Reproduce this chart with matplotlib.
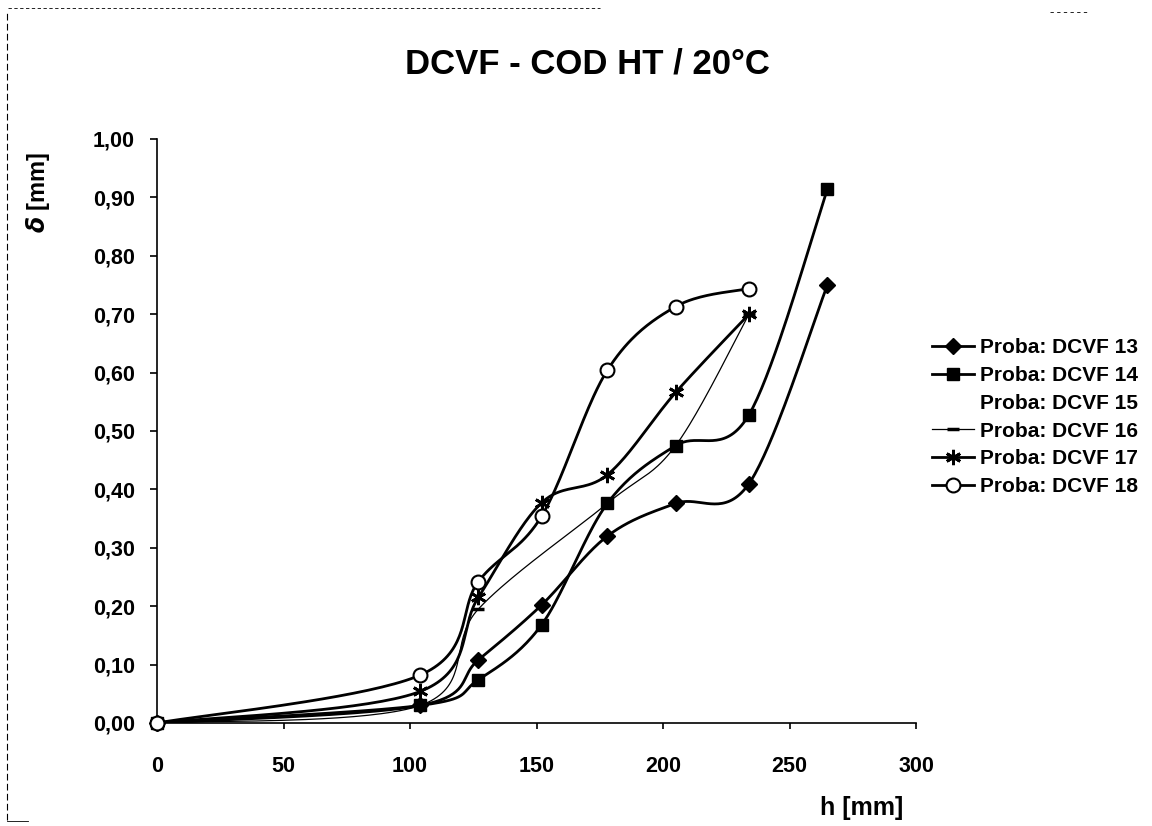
import numpy as np
import matplotlib
matplotlib.use("Agg")
import matplotlib.pyplot as plt
from matplotlib.ticker import FuncFormatter, MultipleLocator
from matplotlib.lines import Line2D

plt.rcParams["font.family"] = ["Liberation Sans", "DejaVu Sans"]
plt.rcParams["font.weight"] = "bold"

# crack depth h [mm] and opening delta [mm] for each specimen
h_13 = [0, 104, 127, 152, 178, 205, 234, 265]
d_13 = [0.00, 0.03, 0.108, 0.202, 0.32, 0.376, 0.41, 0.75]

h_14 = [0, 104, 127, 152, 178, 205, 234, 265]
d_14 = [0.00, 0.03, 0.074, 0.168, 0.376, 0.475, 0.528, 0.914]

h_15 = [0, 104, 127, 152, 178, 205, 234]
d_15 = [0.00, 0.03, 0.21, 0.29, 0.38, 0.475, 0.70]

h_16 = [0, 104, 127, 178, 205, 234]
d_16 = [0.00, 0.03, 0.195, 0.376, 0.475, 0.70]

h_17 = [0, 104, 127, 152, 178, 205, 234]
d_17 = [0.00, 0.054, 0.215, 0.377, 0.425, 0.566, 0.70]

h_18 = [0, 104, 127, 152, 178, 205, 234]
d_18 = [0.00, 0.082, 0.242, 0.354, 0.604, 0.713, 0.744]

labels = ["Proba: DCVF 13", "Proba: DCVF 14", "Proba: DCVF 15",
          "Proba: DCVF 16", "Proba: DCVF 17", "Proba: DCVF 18"]

x_ticks = [0, 50, 100, 150, 200, 250, 300]


def smooth(x, y, n=40):
    """Bezier smoothing through the points (Catmull-Rom style)."""
    P = np.column_stack([x, y]).astype(float)
    out = []
    for i in range(len(P) - 1):
        p0 = P[i - 1] if i > 0 else P[i]
        p1, p2 = P[i], P[i + 1]
        p3 = P[i + 2] if i + 2 < len(P) else P[i + 1]
        c1 = p1 + (p2 - p0) / 6.0
        c2 = p2 - (p3 - p1) / 6.0
        t = np.linspace(0, 1, n)[:, None]
        seg = ((1 - t) ** 3) * p1 + 3 * ((1 - t) ** 2) * t * c1 \
            + 3 * (1 - t) * t ** 2 * c2 + t ** 3 * p2
        out.append(seg if i == 0 else seg[1:])
    S = np.vstack(out)
    return S[:, 0], S[:, 1]


fig = plt.figure(figsize=(11.52, 8.26), dpi=100)
ax = fig.add_axes([157 / 1152, 1 - 723 / 826, 759 / 1152, 584 / 826])

styles = [
    (h_13, d_13, dict(color="black", lw=2.0, marker="D", ms=8, mfc="black", mec="black")),
    (h_14, d_14, dict(color="black", lw=2.0, marker="s", ms=9, mfc="black", mec="black")),
    (h_15, d_15, dict(color="white", lw=1.0, marker=None)),
    (h_16, d_16, dict(color="black", lw=0.9, marker="_", ms=8, mew=2.5, mec="black")),
    (h_17, d_17, dict(color="black", lw=2.0, marker=(6, 2, 0), ms=11, mew=2.0, mec="black")),
    (h_18, d_18, dict(color="black", lw=2.0, marker="o", ms=10, mfc="white", mec="black", mew=1.5)),
]

handles = []
for k, (hx, dy, st) in enumerate(styles):
    sx, sy = smooth(hx, dy)
    z = 1 if st["color"] == "white" else 3
    ax.plot(sx, sy, color=st["color"], lw=st["lw"], zorder=z, solid_capstyle="round")
    if st.get("marker"):
        mk = {key: v for key, v in st.items() if key not in ("color", "lw")}
        ax.plot(hx, dy, ls="none", zorder=4 + k, clip_on=False, **mk)
    handles.append(Line2D([], [], color=st["color"], lw=st["lw"],
                          marker=st.get("marker"), ms=st.get("ms", 0),
                          mfc=st.get("mfc", "black"), mec=st.get("mec", "black"),
                          mew=st.get("mew", 1.0)))

ax.set_xlim(0, 300)
ax.set_ylim(0, 1.0)
ax.set_xticks(x_ticks)
ax.yaxis.set_major_locator(MultipleLocator(0.1))
ax.yaxis.set_major_formatter(FuncFormatter(lambda v, p: f"{v:.2f}".replace(".", ",")))
for side in ("top", "right"):
    ax.spines[side].set_visible(False)
for side in ("left", "bottom"):
    ax.spines[side].set_linewidth(1.2)
ax.tick_params(axis="y", direction="out", length=5, width=1.2, pad=11, labelsize=15.5)
ax.tick_params(axis="x", direction="out", length=4, width=1.2, pad=20, labelsize=15.5)
for lab in ax.get_xticklabels() + ax.get_yticklabels():
    lab.set_fontweight("bold")

fig.text(587 / 1152, 1 - 64 / 826, "DCVF - COD HT / 20°C", ha="center", va="center",
         fontsize=25, fontweight="bold")
fig.text(38 / 1152, 1 - 192 / 826, r"$\delta$ [mm]", rotation=90, ha="center", va="center",
         fontsize=17, fontweight="bold")
fig.text(862 / 1152, 1 - 808 / 826, "h [mm]", ha="center", va="center",
         fontsize=18, fontweight="bold")

fig.legend(handles, labels, loc="upper left", bbox_to_anchor=(924 / 1152, 1 - 330 / 826),
           frameon=False, fontsize=15, handlelength=2.0, handletextpad=0.3,
           labelspacing=0.42, borderaxespad=0)

# dashed frame around the chart area
fig.add_artist(Line2D([7 / 1152, 7 / 1152], [1 - 820 / 826, 1 - 10 / 826],
                      transform=fig.transFigure, color="black", lw=0.8, ls=(0, (6, 3))))
fig.add_artist(Line2D([8 / 1152, 600 / 1152], [1 - 8 / 826, 1 - 8 / 826],
                      transform=fig.transFigure, color="black", lw=0.6, ls=(0, (4, 3))))
fig.add_artist(Line2D([1050 / 1152, 1090 / 1152], [1 - 12 / 826, 1 - 12 / 826],
                      transform=fig.transFigure, color="black", lw=0.6, ls=(0, (4, 4))))
fig.add_artist(Line2D([7 / 1152, 28 / 1152], [1 - 821 / 826, 1 - 821 / 826],
                      transform=fig.transFigure, color="black", lw=0.6))

fig.savefig("out.png", dpi=100)
